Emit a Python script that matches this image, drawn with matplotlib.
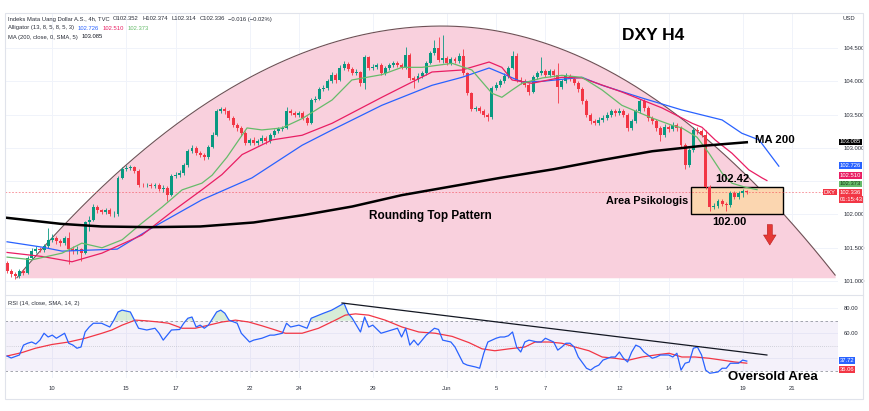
import matplotlib
matplotlib.use("Agg")
import matplotlib.pyplot as plt
import matplotlib.transforms as mtrans
from matplotlib.patches import Rectangle, FancyArrowPatch
import numpy as np

plt.rcParams['font.family'] = ['Liberation Sans', 'DejaVu Sans']

# ---------------- data ----------------
first_open = 101.27
closes = [
    101.15, 101.10, 101.08, 101.15, 101.12, 101.35, 101.45, 101.48, 101.46, 101.52,
    101.62, 101.65, 101.60, 101.57, 101.64, 101.48, 101.45, 101.48, 101.42, 101.88,
    101.92, 102.12, 102.06, 102.04, 102.07, 102.00, 102.00, 102.55, 102.68, 102.70,
    102.71, 102.66, 102.45, 102.44, 102.45, 102.43, 102.45, 102.38, 102.40, 102.30,
    102.58, 102.60, 102.63, 102.75, 102.95, 103.00, 102.92, 102.90, 102.86, 103.02,
    103.20, 103.55, 103.58, 103.55, 103.45, 103.35, 103.30, 103.22, 103.08, 103.12,
    103.08, 103.10, 103.15, 103.10, 103.20, 103.25, 103.28, 103.30, 103.55, 103.52,
    103.50, 103.52, 103.45, 103.38, 103.72, 103.74, 103.88, 103.90, 104.00, 104.10,
    104.02, 104.20, 104.26, 104.18, 104.13, 104.14, 103.97, 104.36, 104.20, 104.22,
    104.24, 104.12, 104.20, 104.24, 104.27, 104.24, 104.22, 104.40, 104.05, 104.02,
    104.08, 104.12, 104.28, 104.42, 104.50, 104.32, 104.35, 104.28, 104.33, 104.30,
    104.38, 104.12, 103.82, 103.58, 103.60, 103.56, 103.50, 103.46, 103.90, 103.95,
    104.00, 104.08, 104.20, 104.38, 104.02, 104.00, 103.95, 103.84, 104.06, 104.12,
    104.15, 104.10, 104.15, 104.10, 103.91, 104.00, 104.08, 104.04, 103.98, 103.88,
    103.70, 103.50, 103.40, 103.38, 103.42, 103.45, 103.50, 103.55, 103.52, 103.56,
    103.50, 103.30, 103.40, 103.55, 103.70, 103.60, 103.45, 103.40, 103.30, 103.20,
    103.32, 103.28, 103.35, 103.30, 103.05, 102.75, 102.97, 103.27, 103.25, 103.20,
    102.41, 102.11, 102.13, 102.20, 102.16, 102.14, 102.32, 102.27, 102.33, 102.35,
    102.336]
highs = [
    101.30, 101.18, 101.13, 101.18, 101.18, 101.38, 101.49, 101.52, 101.51, 101.56,
    101.80, 101.70, 101.68, 101.63, 101.68, 101.73, 101.52, 101.52, 101.50, 101.90,
    101.97, 102.16, 102.14, 102.09, 102.10, 102.10, 102.05, 102.58, 102.72, 102.74,
    102.74, 102.73, 102.68, 102.48, 102.48, 102.47, 102.48, 102.47, 102.44, 102.43,
    102.61, 102.64, 102.67, 102.78, 102.98, 103.05, 103.03, 102.95, 102.93, 103.05,
    103.24, 103.58, 103.62, 103.61, 103.57, 103.48, 103.38, 103.33, 103.25, 103.15,
    103.16, 103.14, 103.19, 103.18, 103.23, 103.28, 103.31, 103.33, 103.62, 103.58,
    103.55, 103.56, 103.55, 103.48, 103.75, 103.78, 103.91, 103.94, 104.03, 104.14,
    104.13, 104.24, 104.30, 104.29, 104.21, 104.18, 104.16, 104.40, 104.38, 104.26,
    104.28, 104.27, 104.23, 104.27, 104.30, 104.30, 104.27, 104.52, 104.42, 104.08,
    104.12, 104.16, 104.31, 104.45, 104.62, 104.66, 104.69, 104.38, 104.36, 104.36,
    104.42, 104.48, 104.14, 103.84, 103.63, 103.63, 103.59, 103.53, 103.93, 103.99,
    104.04, 104.12, 104.23, 104.45, 104.42, 104.06, 104.03, 103.98, 104.09, 104.16,
    104.36, 104.18, 104.19, 104.18, 104.28, 104.04, 104.12, 104.11, 104.07, 104.01,
    103.91, 103.73, 103.53, 103.44, 103.46, 103.49, 103.54, 103.59, 103.58, 103.60,
    103.59, 103.53, 103.44, 103.58, 103.74, 103.73, 103.63, 103.48, 103.43, 103.33,
    103.36, 103.35, 103.39, 103.38, 103.33, 103.08, 103.00, 103.31, 103.32, 103.28,
    103.27, 102.44, 102.17, 102.24, 102.23, 102.19, 102.36, 102.35, 102.36, 102.38,
    102.374]
lows = [
    101.12, 101.06, 101.03, 101.05, 101.09, 101.10, 101.33, 101.42, 101.43, 101.43,
    101.50, 101.58, 101.56, 101.52, 101.54, 101.25, 101.41, 101.40, 101.30, 101.40,
    101.75, 101.90, 102.02, 102.00, 102.01, 101.97, 101.96, 101.98, 102.53, 102.65,
    102.67, 102.63, 102.42, 102.41, 102.41, 102.40, 102.40, 102.35, 102.34, 102.20,
    102.28, 102.55, 102.57, 102.60, 102.72, 102.92, 102.89, 102.86, 102.82, 102.84,
    103.00, 103.18, 103.52, 103.51, 103.42, 103.31, 103.26, 103.18, 103.04, 103.04,
    103.04, 103.05, 103.07, 103.06, 103.08, 103.17, 103.22, 103.25, 103.28, 103.49,
    103.46, 103.47, 103.42, 103.34, 103.36, 103.69, 103.72, 103.85, 103.87, 103.97,
    103.98, 104.00, 104.17, 104.15, 104.10, 104.10, 103.93, 103.88, 104.17, 104.17,
    104.19, 104.09, 104.10, 104.17, 104.21, 104.21, 104.19, 104.19, 104.02, 103.90,
    103.99, 104.05, 104.10, 104.26, 104.40, 104.29, 104.28, 104.25, 104.25, 104.27,
    104.27, 104.09, 103.79, 103.55, 103.55, 103.53, 103.47, 103.40, 103.44, 103.87,
    103.92, 103.97, 104.05, 104.18, 103.99, 103.96, 103.91, 103.80, 103.82, 104.03,
    104.10, 104.06, 104.07, 104.06, 103.67, 103.88, 103.97, 104.00, 103.94, 103.84,
    103.66, 103.46, 103.36, 103.34, 103.35, 103.39, 103.42, 103.47, 103.48, 103.49,
    103.46, 103.26, 103.27, 103.37, 103.52, 103.56, 103.41, 103.36, 103.26, 103.10,
    103.17, 103.24, 103.25, 103.26, 103.01, 102.68, 102.72, 102.94, 103.21, 103.16,
    102.38, 102.05, 102.08, 102.10, 102.13, 102.05, 102.12, 102.24, 102.24, 102.26,
    102.314]

# MA 200 (bar index, value)
ma_x = [0, 13, 23, 35, 47, 60, 72, 84, 96, 108, 120, 133, 145, 157, 169, 180]
ma_y = [101.95, 101.86, 101.82, 101.81, 101.82, 101.88, 101.99, 102.12, 102.29,
        102.42, 102.55, 102.68, 102.82, 102.95, 103.03, 103.085]

# Alligator jaw (blue), teeth (red), lips (green)
jaw_x = [0, 8.5, 13.4, 26.8, 35.3, 47.4, 59.6, 71.8, 79.1, 91.2, 103.4, 110.7, 117.3,
         120.4, 125.3, 130.2, 139.9, 144.8, 154.5, 164.2, 174, 178.8, 183, 187.8]
jaw_y = [101.59, 101.51, 101.45, 101.48, 101.80, 102.22, 102.55, 103.04, 103.27, 103.64,
         103.94, 104.06, 104.20, 104.12, 103.99, 104.00, 104.06, 103.94, 103.75, 103.57,
         103.42, 103.22, 103.12, 102.726]
teeth_x = [0, 8.5, 15.8, 23.1, 32.8, 40.1, 47.4, 52.3, 57.2, 64.5, 71.8, 79.1, 91.2,
           103.4, 110.7, 117.3, 120.4, 122.9, 127.7, 135, 139.9, 149.6, 159.4, 166.7,
           169.1, 172.3, 176.4, 180.5, 183.7, 184.9]
teeth_y = [101.43, 101.37, 101.29, 101.42, 101.69, 102.04, 102.37, 102.60, 102.90, 103.12,
           103.19, 103.37, 103.76, 104.14, 104.17, 104.29, 104.21, 104.02, 103.97, 104.06,
           104.05, 103.84, 103.60, 103.37, 103.31, 103.12, 102.92, 102.67, 102.55, 102.51]
lips_x = [0, 6.1, 13.4, 18.2, 23.1, 28, 32.8, 37.7, 42.6, 47.4, 49.9, 53.5, 58.4, 62,
          66.9, 71.8, 79.1, 83.9, 91.2, 96.1, 101, 108.3, 113.1, 118, 120.4, 122.9, 125.3,
          130.2, 135, 139.9, 144.8, 149.6, 156.9, 161.8, 164.2, 167.9, 170.8, 174, 176.4,
          179.6, 182.5]
lips_y = [101.36, 101.32, 101.42, 101.57, 101.50, 101.62, 101.87, 102.11, 102.37, 102.47,
          102.59, 102.86, 103.30, 103.27, 103.30, 103.44, 103.72, 104.02, 104.10, 104.21,
          104.21, 104.27, 104.17, 103.82, 103.76, 103.87, 103.97, 104.05, 104.09, 104.06,
          103.87, 103.64, 103.45, 103.34, 103.30, 103.16, 102.92, 102.62, 102.47, 102.41,
          102.373]

# RSI (14) and its SMA
rsi_x = [0, 1, 3, 4, 5, 6, 7, 8, 9, 10, 11, 12, 14, 15, 16, 17, 18, 19, 20, 21, 23, 25,
         26, 27, 28, 30, 31, 32, 34, 36, 37, 38, 40, 42, 43, 44, 45, 46, 47, 48, 49, 51,
         52, 53, 54, 56, 57, 59, 60, 62, 64, 65, 67, 68, 69, 71, 73, 74, 77, 79, 82, 83,
         84, 86, 87, 88, 89, 91, 92, 95, 96, 97, 98, 99, 100, 102, 104, 105, 106, 108,
         109, 111, 112, 114, 115, 116, 117, 119, 120, 121, 122, 123, 124, 125, 126, 127,
         129, 130, 131, 133, 134, 135, 136, 137, 138, 139, 141, 142, 143, 144, 145, 147,
         148, 149, 150, 151, 152, 153, 154, 155, 157, 158, 159, 161, 162, 163, 164, 165,
         166, 167, 168, 169, 170, 171, 173, 174, 175, 176, 178, 179, 180]
rsi_y = [41.8, 40.2, 42.6, 50.5, 52, 53, 51.4, 54.5, 60, 57, 58.5, 56, 60, 52, 50.6, 48,
         49, 61, 65, 68, 68, 65, 70.5, 77, 78.5, 77, 70.5, 64, 62.6, 64, 60, 54.5, 62.6,
         63, 68, 72, 73, 65, 66.5, 64, 66.5, 77, 78.5, 76, 70.5, 68, 60, 53, 54.5, 56,
         58.5, 58.5, 60, 68, 65, 66.5, 64, 72, 76, 78.5, 84, 76, 72, 61, 73, 65, 66.5, 60,
         61, 64, 57, 64, 50.5, 54.5, 50.5, 58.5, 64, 63, 54.5, 53, 49, 36, 34.5, 33, 32,
         44, 53, 56, 57, 57, 58, 61, 49, 45, 53, 54.5, 53, 53, 56, 53, 46.5, 49, 52, 52,
         49, 41, 32, 30.5, 33, 34.5, 38.5, 41, 41, 45, 40, 37, 45, 50.5, 49, 45, 40, 41,
         42.6, 42.6, 41, 44, 30.5, 36, 37, 48, 49, 42.6, 30.5, 28, 29, 32, 32, 36, 36,
         38.5, 37.72]
rsi_ma_x = [0, 3.6, 6.9, 10.9, 15, 19, 23.1, 25.5, 28, 31.2, 33.7, 36.9, 39.3, 42.6,
            45.8, 49.1, 52.3, 55.6, 58.8, 62, 65.3, 67.7, 71.8, 75.8, 79.9, 82.3, 84.8,
            88, 92, 96.1, 100.2, 104.2, 108.3, 112.4, 115.6, 118.7, 122.1, 126, 128.5,
            131.9, 135, 138.2, 141.6, 144.8, 147.9, 151.3, 154.5, 157.7, 161.1, 164.2,
            167.4, 170.8, 174, 177.1, 180]
rsi_ma_y = [41.8, 44.5, 48, 51, 53, 56, 60, 62.6, 66.5, 70.5, 70, 69, 68, 64, 64, 66.5,
            69, 70.5, 69, 66, 62.6, 60, 60, 64, 70.5, 74.5, 75.5, 74.5, 70.5, 65, 61, 60,
            57.5, 52.5, 47.5, 46, 47.5, 49, 53, 53, 52, 49, 46, 41, 40, 38.5, 41, 42.6, 44,
            41, 41, 40, 38.5, 37, 36.06]
rsi_trend = [(81.5, 84.2), (184.9, 42.6)]

day_ticks = [11, 29, 41, 59, 71, 89, 107, 119, 131, 149, 161, 179, 191]
day_labels = ["10", "15", "17", "22", "24", "29", "Jun", "5", "7", "12", "14", "19", "21"]
price_grid = [101.0, 101.5, 102.0, 102.5, 103.0, 103.5, 104.0, 104.5]
price_labelled = [101.0, 101.5, 102.0, 103.0, 103.5, 104.0, 104.5]
rsi_grid = [40, 60, 80]
rsi_labelled = [60, 80]

# drawings: rounding top dome and the psychological area box
dome_left = (2.4, 101.05)
dome_top = (105.8, 104.83)
dome_right = (201.5, 101.09)
area_low, area_high = 102.00, 102.42
area_x = (166.4, 188.8)

UP, DOWN = '#089981', '#f23645'
GRID = '#f0f3fa'

# ---------------- figure ----------------
W, H = 870, 411
fig = plt.figure(figsize=(W / 100, H / 100), dpi=100)


def fx(px):
    return px / W


def fy(py):
    return 1 - py / H


ax = fig.add_axes([fx(5), fy(294), fx(838) - fx(5), fy(13) - fy(294)])
rx = fig.add_axes([fx(5), fy(378), fx(838) - fx(5), fy(296) - fy(378)], sharex=ax)

XMIN, XMAX = -0.5, 202.2
ax.set_xlim(XMIN, XMAX)
ax.set_ylim(100.806, 105.026)
rx.set_ylim(24.2, 89.8)

for a in (ax, rx):
    for s in a.spines.values():
        s.set_visible(False)
    a.set_facecolor('white')
    for t in day_ticks:
        a.axvline(t, color=GRID, lw=0.7, zorder=0)

for p in price_grid:
    ax.axhline(p, color=GRID, lw=0.7, zorder=0)
for p in rsi_grid:
    rx.axhline(p, color=GRID, lw=0.7, zorder=0)

# dome (rounding top)
xs_l = np.linspace(dome_left[0], dome_top[0], 200)
ys_l = dome_top[1] - (dome_top[1] - dome_left[1]) * ((dome_top[0] - xs_l) / (dome_top[0] - dome_left[0])) ** 2
xs_r = np.linspace(dome_top[0], dome_right[0], 200)
ys_r = dome_top[1] - (dome_top[1] - dome_right[1]) * ((xs_r - dome_top[0]) / (dome_right[0] - dome_top[0])) ** 2
dx = np.concatenate([xs_l, xs_r[1:]])
dy = np.concatenate([ys_l, ys_r[1:]])
ax.fill_between(dx, dy, dome_left[1], color='#f9d0dd', lw=0, zorder=1)
ax.plot(dx, dy, color='#6e5055', lw=0.8, zorder=1.5)

# psychological area box
ax.add_patch(Rectangle((area_x[0], area_low), area_x[1] - area_x[0], area_high - area_low,
                       fc='#fbd6b0', ec='black', lw=1.0, zorder=1.6))

# current price line
ax.axhline(closes[-1], color=DOWN, lw=0.6, ls=(0, (2, 2)), alpha=0.6, zorder=1.7)

# candles
n = len(closes)
idx = np.arange(n)
opens = [first_open] + closes[:-1]
cols = [UP if c >= o else DOWN for o, c in zip(opens, closes)]
ax.vlines(idx, lows, highs, colors=cols, lw=0.6, zorder=3)
bottoms = [min(o, c) for o, c in zip(opens, closes)]
heights = [max(abs(c - o), 0.008) for o, c in zip(opens, closes)]
ax.bar(idx, heights, bottom=bottoms, width=0.72, color=cols, lw=0, zorder=3.1)

# indicators
ax.plot(jaw_x, jaw_y, color='#2962ff', lw=0.9, zorder=4)
ax.plot(teeth_x, teeth_y, color='#e91e63', lw=0.9, zorder=4)
ax.plot(lips_x, lips_y, color='#66bb6a', lw=0.9, zorder=4)
ax.plot(ma_x, ma_y, color='black', lw=1.8, zorder=4.5)

# price axis
ax.yaxis.tick_right()
ax.set_yticks(price_labelled)
ax.set_yticklabels(['%.3f' % p for p in price_labelled])
ax.tick_params(axis='y', length=0, pad=4, labelsize=4.2, labelcolor='#2a2e39')
ax.tick_params(axis='x', length=0, labelbottom=False)

right = mtrans.blended_transform_factory(ax.transAxes, ax.transData)
xo = 1 + 2.0 / 833


def tag(axis, trans, y, s, fc, tc='white'):
    axis.text(xo, y, s, transform=trans, fontsize=4.2, color=tc, ha='left', va='center',
              bbox=dict(boxstyle='square,pad=0.15', fc=fc, ec='none'), zorder=10, clip_on=False)


tag(ax, right, 103.09, '103.085', 'black')
tag(ax, right, 102.733, '102.726', '#2962ff')
tag(ax, right, 102.583, '102.510', '#e91e63')
tag(ax, right, 102.458, '102.373', '#66bb6a', '#1b3a1c')
tag(ax, right, 102.333, '102.336', DOWN)
tag(ax, right, 102.228, '01:15:43', DOWN)
ax.text(1 - 2.0 / 833, 102.336, 'DXY', transform=right, fontsize=4.2, color='white',
        ha='right', va='center', bbox=dict(boxstyle='square,pad=0.15', fc=DOWN, ec='none'),
        zorder=10, clip_on=False)
fig.text(fx(843), fy(19), 'USD', fontsize=4.2, color='#2a2e39', va='center')

# legend rows


def chain(x, y, parts, size=4.2, gap=2.5):
    t = fig.text(x, y, parts[0][0], color=parts[0][1], fontsize=size, ha='left', va='center')
    for s, c in parts[1:]:
        t = ax.annotate(s, xy=(1, 0.5), xycoords=t, xytext=(gap, 0), textcoords='offset points',
                        color=c, fontsize=size, ha='left', va='center', annotation_clip=False)


chain(fx(8), fy(19), [('Indeks Mata Uang Dollar A.S., 4h, TVC', '#2a2e39'),
                      ('O102.352', '#2a2e39'), ('H102.374', '#2a2e39'),
                      ('L102.314', '#2a2e39'), ('C102.336', '#2a2e39'),
                      ('\u22120.016 (\u22120.02%)', '#2a2e39')])
chain(fx(8), fy(28), [('Alligator (13, 8, 5, 8, 5, 3)', '#2a2e39'), ('102.726', '#2962ff'),
                      ('102.510', '#e91e63'), ('102.373', '#66bb6a')])
chain(fx(8), fy(37), [('MA (200, close, 0, SMA, 5)', '#2a2e39'), ('103.085', '#131722')])

# annotations
ax.text(157.2, 104.695, 'DXY H4', fontsize=12.5, fontweight='bold', ha='center', va='center',
        color='black', zorder=6)
ax.text(186.9, 103.12, 'MA 200', fontsize=8.2, fontweight='bold', ha='center', va='center', zorder=6)
ax.text(176.4, 102.533, '102.42', fontsize=8, fontweight='bold', ha='center', va='center', zorder=6)
ax.text(175.7, 101.887, '102.00', fontsize=8, fontweight='bold', ha='center', va='center', zorder=6)
ax.text(155.7, 102.20, 'Area Psikologis', fontsize=7.8, fontweight='bold', ha='center',
        va='center', zorder=6)
ax.text(103.0, 101.977, 'Rounding Top Pattern', fontsize=8.5, fontweight='bold', ha='center',
        va='center', zorder=6)
ax.add_patch(FancyArrowPatch((185.6, 101.89), (185.6, 101.50),
                             arrowstyle='simple,head_width=1.5,head_length=1.2,tail_width=0.6',
                             mutation_scale=6, fc='#e53935', ec='#b71c1c', lw=0.4, zorder=6))

# ---------------- RSI pane ----------------
rx.axhspan(30, 70, color='#7e57c2', alpha=0.08, lw=0, zorder=0.5)
rx.axhline(70, color='#9598a1', lw=0.6, ls=(0, (3, 3)), zorder=1)
rx.axhline(50, color='#b2b5be', lw=0.5, ls=(0, (1, 2)), zorder=1)
rx.axhline(30, color='#9598a1', lw=0.6, ls=(0, (3, 3)), zorder=1)

rx_arr = np.array(rsi_x, dtype=float)
ry_arr = np.array(rsi_y)
rx.fill_between(rx_arr, ry_arr, 70, where=ry_arr > 70, interpolate=True,
                color='#4caf50', alpha=0.22, lw=0, zorder=1.2)
rx.plot(rsi_ma_x, rsi_ma_y, color='#f23645', lw=0.9, zorder=2)
rx.plot(rsi_x, rsi_y, color='#2962ff', lw=0.9, zorder=3)
rx.plot([p[0] for p in rsi_trend], [p[1] for p in rsi_trend], color='#131722', lw=0.9, zorder=4)

rx.yaxis.tick_right()
rx.set_yticks(rsi_labelled)
rx.set_yticklabels(['%.2f' % v for v in rsi_labelled])
rx.tick_params(axis='y', length=0, pad=4, labelsize=4.2, labelcolor='#2a2e39')
rx.set_xticks(day_ticks)
rx.set_xticklabels(day_labels)
rx.tick_params(axis='x', length=0, pad=6, labelsize=4.2, labelcolor='#2a2e39')

rright = mtrans.blended_transform_factory(rx.transAxes, rx.transData)
tag(rx, rright, 38.2, '37.72', '#2962ff')
tag(rx, rright, 31.2, '36.06', DOWN)

rx.text(186.4, 25.0, 'Oversold Area', fontsize=9.5, fontweight='bold', ha='center',
        va='center', zorder=6, clip_on=False)

chain(fx(8), fy(303), [('RSI (14, close, SMA, 14, 2)', '#2a2e39'), ('37.72', '#2962ff'),
                       ('36.06', '#f23645'), ('\u2205', '#2a2e39'), ('\u2205', '#2a2e39')])

# frame and pane separator
fig.add_artist(Rectangle((fx(5), fy(399)), fx(863) - fx(5), fy(13) - fy(399),
                         transform=fig.transFigure, fill=False, ec='#e0e3eb', lw=0.8))
fig.add_artist(plt.Line2D([fx(5), fx(863)], [fy(295), fy(295)], transform=fig.transFigure,
                          color='#e0e3eb', lw=0.8))

fig.savefig('out.png', dpi=100)
